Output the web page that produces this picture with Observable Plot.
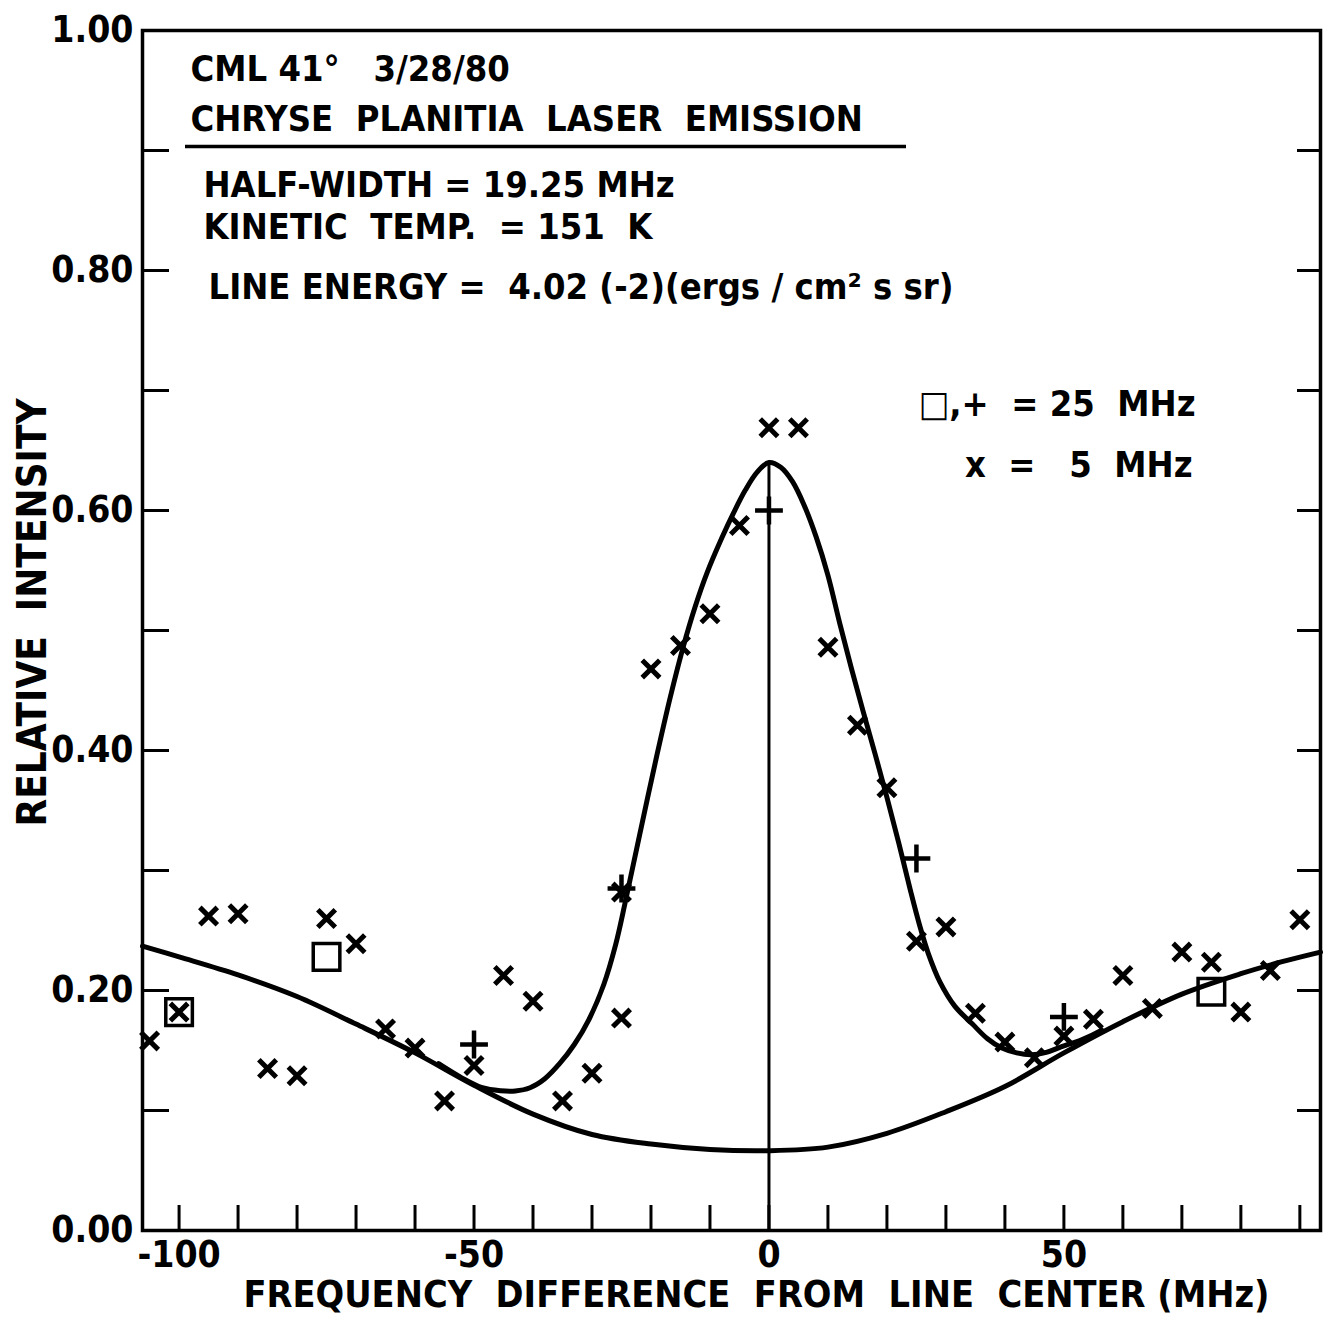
<!DOCTYPE html>
<html>
<head>
<meta charset="utf-8">
<script src="https://cdn.jsdelivr.net/npm/d3@7"></script>
<script src="https://cdn.jsdelivr.net/npm/@observablehq/plot@0.6"></script>
<style>
  html, body { margin: 0; padding: 0; background: #fff; }
  #chart svg { display: block; background: #fff; }
</style>
</head>
<body>
<div id="chart"></div>
<script>
// ---------------- data ----------------
// 5 MHz resolution points ("x")
const x5Freq = [-105,-100,-95,-90,-85,-80,-75,-70,-65,-60,-55,-50,-45,-40,-35,-30,-25,-25,-20,-15,-10,-5,0,5,10,15,20,25,30,35,40,45,50,55,60,65,70,75,80,85,90];
const x5Val  = [0.158,0.182,0.262,0.264,0.135,0.129,0.260,0.239,0.168,0.152,0.108,0.1375,0.2125,0.191,0.108,0.131,0.177,0.282,0.468,0.4875,0.514,0.5875,0.669,0.669,0.486,0.421,0.369,0.241,0.253,0.181,0.157,0.144,0.162,0.176,0.2125,0.185,0.232,0.2236,0.182,0.2167,0.259];

// 25 MHz resolution points ("+")
const plusFreq = [-50,-25,0,25,50];
const plusVal  = [0.155,0.285,0.600,0.310,0.178];

// 25 MHz resolution points (squares)
const sqFreq = [-100,-75,75];
const sqVal  = [0.182,0.228,0.199];

// broad (continuum) curve
const contFreq = [-106.2,-100,-90,-80,-70,-60,-50,-40,-30,-20,-10,0,10,20,30,40,50,60,70,80,87,93.5];
const contVal  = [0.237,0.228,0.213,0.195,0.172,0.148,0.121,0.097,0.080,0.072,0.0675,0.0665,0.0695,0.081,0.099,0.120,0.148,0.174,0.197,0.214,0.224,0.232];

// fitted laser-emission line profile
const lineFreq = [-56,-52,-48.6,-45.5,-43,-40.5,-38,-35.5,-33,-30.5,-28,-26,-24.3,-22,-19,-16.7,-14.5,-12.5,-10.5,-8,-6,-4,-2,0,2,4,6,8,10,12,14,16,18,20,22,24,25.5,27,29,31.5,34.5,37,39.5,42,44.5,47,49.5,53,56.4];
const lineVal  = [0.139,0.127,0.119,0.1165,0.1163,0.119,0.1265,0.139,0.155,0.176,0.205,0.238,0.275,0.328,0.396,0.445,0.487,0.520,0.548,0.577,0.598,0.617,0.632,0.640,0.636,0.624,0.604,0.578,0.546,0.506,0.468,0.432,0.397,0.361,0.323,0.283,0.255,0.231,0.207,0.187,0.172,0.160,0.152,0.148,0.1465,0.1485,0.153,0.159,0.167];

// axis ticks and labels
const xTicks  = [-100,-90,-80,-70,-60,-50,-40,-30,-20,-10,0,10,20,30,40,50,60,70,80,90];
const xLabels = [-100,-50,0,50];
const yTicks  = [0.1,0.2,0.3,0.4,0.5,0.6,0.7,0.8,0.9];
const yLabels = [0,0.2,0.4,0.6,0.8,1.0];

const xTitle = "FREQUENCY  DIFFERENCE  FROM  LINE  CENTER (MHz)";
const yTitle = "RELATIVE  INTENSITY";
const noteLines = [
  "CML 41°   3/28/80",
  "CHRYSE  PLANITIA  LASER  EMISSION",
  "HALF-WIDTH = 19.25 MHz",
  "KINETIC  TEMP.  = 151  K",
  "LINE ENERGY =  4.02 (-2)(ergs / cm² s sr)"
];
const legendLines = ["□,+  = 25  MHz", "x  =   5  MHz"];

// ---------------- tables ----------------
const pts5   = x5Freq.map((f, i) => ({f, v: x5Val[i]}));
const ptsP   = plusFreq.map((f, i) => ({f, v: plusVal[i]}));
const ptsS   = sqFreq.map((f, i) => ({f, v: sqVal[i]}));
const cont   = contFreq.map((f, i) => ({f, v: contVal[i]}));
const line   = lineFreq.map((f, i) => ({f, v: lineVal[i]}));
const peak   = line.reduce((a, b) => (b.v > a.v ? b : a));

// ---------------- layout ----------------
const W = 1332, H = 1318;
const M = {top: 30, right: 12, bottom: 88, left: 142};
const FW = W - M.left - M.right, FH = H - M.top - M.bottom;
const FONT = "'DejaVu Sans Condensed', 'DejaVu Sans', sans-serif";
const txt = {fontFamily: FONT, fontWeight: "bold", fill: "black"};

// place annotation text by page pixel position (left edge / vertical centre)
function note(s, px, py, size, anchor = "start") {
  return Plot.text([s], {
    frameAnchor: "top-left", dx: px - M.left, dy: py - M.top,
    text: d => d, textAnchor: anchor, lineAnchor: "middle",
    fontSize: size, ...txt
  });
}

const xDom = [-106.2, 93.5];
const pxToF = px => xDom[0] + (px - M.left) / FW * (xDom[1] - xDom[0]);
const pyToV = py => 1 - (py - M.top) / FH;

const chart = Plot.plot({
  width: W, height: H,
  marginTop: M.top, marginRight: M.right, marginBottom: M.bottom, marginLeft: M.left,
  x: {domain: xDom, axis: null},
  y: {domain: [0, 1], axis: null},
  style: {background: "white", color: "black", overflow: "visible"},
  marks: [
    Plot.frame({stroke: "black", strokeWidth: 3.5}),
    // inward ticks
    Plot.tickY(yTicks, {y: d => d, insetRight: FW - 27, stroke: "black", strokeWidth: 3}),
    Plot.tickY(yTicks, {y: d => d, insetLeft: FW - 23, stroke: "black", strokeWidth: 3}),
    Plot.tickX(xTicks, {x: d => d, insetTop: FH - 25, stroke: "black", strokeWidth: 3}),
    // tick labels
    Plot.text(yLabels, {y: d => d, frameAnchor: "left", dx: -9, textAnchor: "end",
      text: d => d3.format(".2f")(d), fontSize: 37, ...txt}),
    Plot.text(xLabels, {x: d => d, frameAnchor: "bottom", lineAnchor: "top", dy: 10,
      text: d => (d < 0 ? "-" + Math.abs(d) : String(d)), fontSize: 37, ...txt}),
    // axis titles
    Plot.text([xTitle], {frameAnchor: "bottom", textAnchor: "middle", lineAnchor: "middle", dx: 25, dy: 64,
      text: d => d, fontSize: 37.5, ...txt}),
    Plot.text([yTitle], {frameAnchor: "left", textAnchor: "middle", rotate: -90, lineAnchor: "middle", dx: -109, dy: -18,
      text: d => d, fontSize: 40, ...txt}),
    // centre line
    Plot.ruleX([peak], {x: 0, y1: 0, y2: "v", stroke: "black", strokeWidth: 3}),
    // curves
    Plot.line(cont, {x: "f", y: "v", curve: "catmull-rom", stroke: "black", strokeWidth: 5}),
    Plot.line(line, {x: "f", y: "v", curve: "catmull-rom", stroke: "black", strokeWidth: 5}),
    // data points
    Plot.dot(ptsS, {x: "f", y: "v", symbol: "square", r: 15, stroke: "black", strokeWidth: 3.5, fill: "none"}),
    Plot.dot(pts5, {x: "f", y: "v", symbol: "times", r: 8, stroke: "black", strokeWidth: 5}),
    Plot.dot(ptsP, {x: "f", y: "v", symbol: "plus", r: 9, stroke: "black", strokeWidth: 4.5}),
    // annotations
    note(noteLines[0], 190, 69, 36),
    note(noteLines[1], 190, 119, 36),
    Plot.ruleY([pyToV(146)], {y: d => d, x1: pxToF(185), x2: pxToF(906), stroke: "black", strokeWidth: 3.5}),
    note(noteLines[2], 203, 185, 36),
    note(noteLines[3], 203, 227, 36),
    note(noteLines[4], 208, 287, 36),
    note(legendLines[0], 1195, 404, 36, "end"),
    note(legendLines[1], 1192, 465, 36, "end")
  ]
});
document.getElementById("chart").appendChild(chart);
</script>
</body>
</html>
